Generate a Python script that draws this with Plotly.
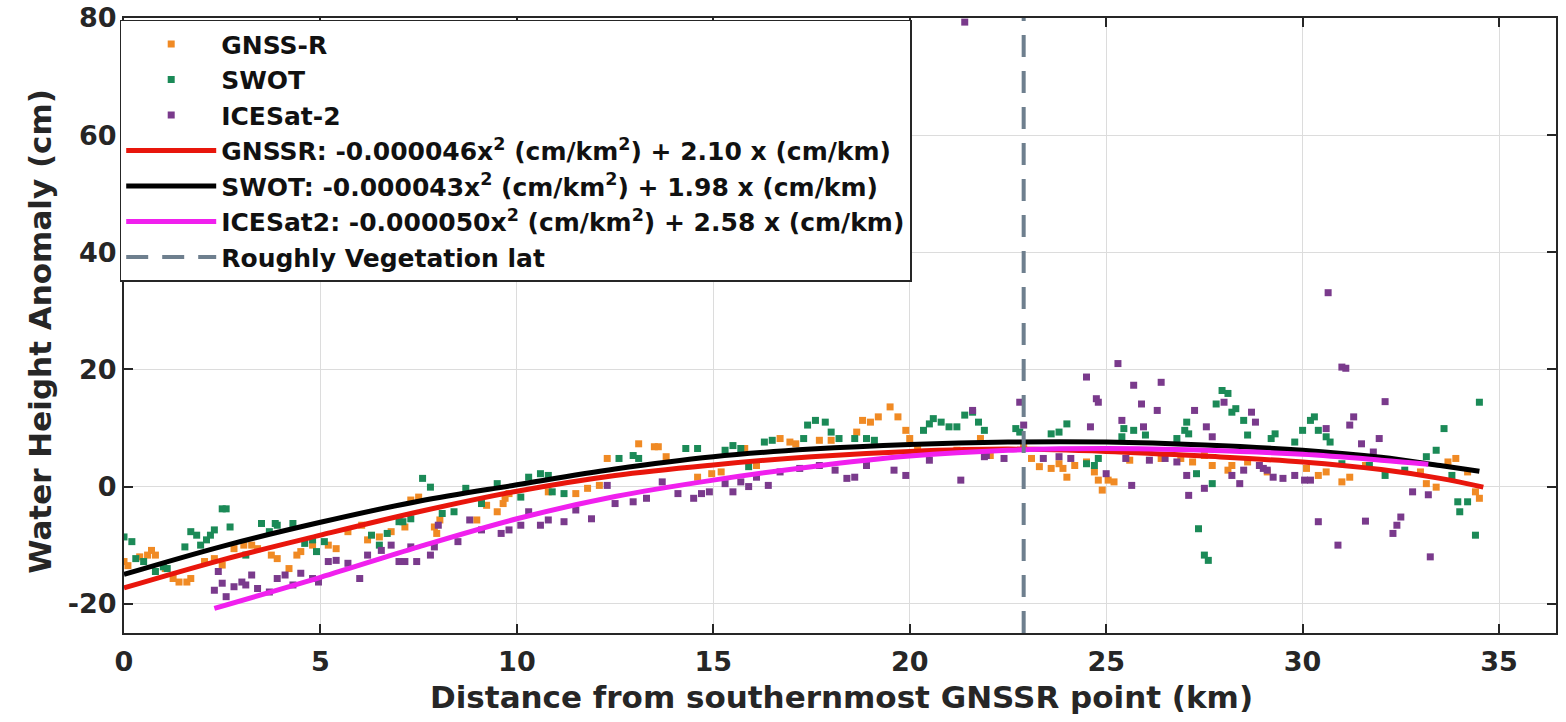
import plotly.graph_objects as go

# ---------------- data ----------------
gnssr_x = [0.0, 0.1, 0.4, 0.6, 0.7, 0.8, 1.05, 1.25, 1.4, 1.6, 1.7, 2.05, 2.3, 2.5, 2.8, 3.05, 3.25, 3.4,
           3.75, 3.9, 4.2, 4.4, 4.5, 4.8, 5.2, 5.4, 5.7, 6.05, 6.2, 6.5, 6.8, 7.15, 7.3,
           7.5, 7.9, 7.96, 8.04, 8.98, 9.23, 9.5, 9.65, 9.7, 9.8, 10.8, 11.5, 11.8, 12.1, 12.3,
           13.1, 13.5, 13.6, 13.8, 14.6, 14.96, 15.2, 15.8, 16.1, 16.7, 16.95, 17.1, 17.7, 18.0,
           18.65, 18.8, 19.0, 19.2, 19.5, 19.7, 19.9, 20.0, 20.2, 21.2, 21.8, 22.05, 22.9, 23.1,
           23.3, 23.6, 23.8, 23.9, 24.0, 24.2, 24.5, 24.7, 24.8, 24.9, 25.05, 25.2, 25.6, 26.4,
           26.9, 27.2, 27.5, 27.7, 28.1, 28.2, 28.6, 29.1, 30.1, 30.4, 30.6, 31.0, 31.2, 31.6,
           33.0, 33.15, 33.4, 33.7, 33.9, 34.2, 34.4, 34.5]
gnssr_y = [-12.8, -13.5, -12.0, -11.7, -10.9, -11.7, -14.0, -15.7, -16.3, -16.3, -15.7, -12.8, -12.3, -13.4,
           -10.6, -10.0, -10.0, -10.6, -11.7, -12.3, -14.0, -11.7, -11.1, -10.0, -10.0, -10.6, -7.7, -6.6,
           -9.1, -8.6, -7.7, -6.9, -2.3,
           -1.8, -6.9, -8.0, -5.7, -5.7, -3.2, -4.3, -2.9, -2.0, -1.2, -0.9, -1.2, -0.3, 0.2, 4.8,
           7.3, 6.8, 6.8, 5.1, 1.6, 2.2, 2.5, 6.5, 3.6, 8.2, 7.6, 7.3, 7.9, 7.9,
           9.3, 11.3, 11.0, 11.9, 13.6, 11.9, 9.6, 8.2, 6.5, 6.2, 8.2, 5.3, 7.0, 4.8,
           3.4, 3.1, 3.9, 3.1, 1.6, 3.6, 4.2, 2.5, 1.1, -0.6, 1.1, 0.8, 4.5, 4.8,
           4.8, 4.2, 5.3, 3.6, 2.8, 3.6, 4.2, 2.5, 3.1, 1.9, 2.5, 0.8, 1.6, 3.6,
           2.5, 0.5, -0.1, 4.2, 4.8, 2.5, -0.9, -2.0]

swot_x = [0.0, 0.2, 0.3, 0.5, 0.8, 1.0, 1.1, 1.55, 1.7, 1.85, 1.95, 2.1, 2.2, 2.3, 2.5, 2.6, 2.7, 3.1,
          3.5, 3.7, 3.85, 3.9, 4.3, 4.6, 4.8, 4.9, 5.1, 6.3, 6.5, 6.7, 7.0, 7.1, 7.3, 7.6, 7.8,
          8.1, 8.4, 8.7, 9.1, 9.5, 10.1, 10.3, 10.6, 10.8, 10.9, 11.2, 12.6, 12.96, 13.1, 14.3,
          14.6, 15.3, 15.5, 15.7, 15.9, 16.3, 16.5, 17.3, 17.4, 17.6, 17.85, 18.0, 18.2, 18.6,
          18.9, 19.1, 20.35, 20.5, 20.6, 20.8, 21.0, 21.2, 21.4, 21.6, 21.75, 21.9, 22.7, 22.8,
          23.6, 23.8, 24.0, 24.5, 24.7, 24.8, 25.4, 25.45, 25.7, 26.0, 26.8, 27.0, 27.05, 27.1,
          27.3, 27.35, 27.5, 27.6, 27.7, 27.8, 27.95, 28.1, 28.2, 28.3, 28.5, 28.6, 29.2, 29.3,
          29.8, 30.0, 30.2, 30.3, 30.4, 30.6, 30.7, 31.0, 31.7, 32.1, 32.6, 33.15, 33.4, 33.6,
          33.8, 33.95, 34.0, 34.2, 34.4, 34.5]
swot_y = [-8.6, -9.4, -12.3, -12.8, -14.5, -13.7, -14.0, -10.3, -7.7, -8.3, -10.0, -9.1, -8.3, -7.4,
          -3.8, -3.8, -6.9, -11.7, -6.3, -7.7, -6.3, -6.6, -6.3, -9.7, -9.1, -11.1, -9.4, -8.3, -10.0,
          -8.0, -6.0, -6.0, -5.5, 1.4, -0.1, -4.6, -4.3, -0.3, -2.9, 0.5, -1.8, 1.6, 2.2, 1.9, -0.9,
          -1.2, 4.8, 5.3, 4.8, 6.5, 6.5, 6.2, 7.0, 6.5, 3.4, 7.6, 7.9, 8.2, 10.5, 11.3, 11.0, 9.3,
          8.2, 8.2, 8.2, 7.9, 9.6, 10.7, 11.6, 11.0, 10.2, 10.2, 12.2, 12.7, 11.0, 9.6, 9.9, 9.3,
          9.0, 9.3, 10.7, 3.9, 3.6, 4.8, 8.5, 9.9, 9.6, 8.8, 8.2, 9.6, 11.0, 9.0, 2.2, -7.2, -11.7,
          -12.6, 0.5, 14.1, 16.4, 15.9, 12.7, 13.3, 11.3, 8.8, 8.2, 9.0, 7.6, 9.6, 11.3, 11.9, 9.6,
          8.5, 7.6, 3.9, 3.6, 1.9, 2.8, 5.1, 6.2, 9.9, 1.9, -2.6, -4.3, -2.6, -8.3, 14.4]

icesat_x = [2.3, 2.4, 2.5, 2.6, 2.8, 3.0, 3.1, 3.25, 3.4, 3.7, 3.9, 4.1, 4.3, 4.5, 4.8, 4.95, 5.2, 5.4,
            5.7, 6.0, 6.2, 6.55, 6.8, 7.0, 7.15, 7.3, 7.45, 7.8, 7.9, 8.0, 8.5, 8.8, 9.1, 9.6, 9.8,
            10.1, 10.3, 10.6, 10.8, 11.2, 11.5, 11.9, 12.3, 12.5, 12.96, 13.3, 13.7, 14.1, 14.5,
            14.7, 14.9, 15.3, 15.5, 15.7, 15.9, 16.1, 16.4, 16.7, 17.2, 17.7, 18.1, 18.4, 18.6,
            18.9, 19.6, 19.9, 20.5, 21.3, 21.4, 21.6, 21.9, 21.95, 22.4, 22.8, 22.9, 23.4, 23.8,
            24.1, 24.5, 24.6, 24.75, 24.8, 25.0, 25.3, 25.4, 25.5, 25.65, 25.7, 25.9, 25.95, 26.1,
            26.3, 26.4, 26.5, 26.8, 27.05, 27.1, 27.25, 27.5, 27.55, 27.7, 28.0, 28.2, 28.4, 28.5,
            28.7, 28.8, 28.9, 29.0, 29.1, 29.25, 29.5, 29.8, 30.05, 30.2, 30.4, 30.6, 30.65, 30.9,
            31.0, 31.1, 31.2, 31.3, 31.5, 31.6, 31.8, 31.95, 32.1, 32.3, 32.4, 32.5, 32.8, 33.2,
            33.25]
icesat_y = [-17.7, -14.5, -16.5, -18.8, -17.1, -16.3, -16.8, -15.1, -17.4, -18.0, -15.7, -15.1, -16.8,
            -14.8, -15.7, -16.3, -12.8, -12.6, -13.1, -15.7, -11.7, -10.9, -10.0, -12.8, -12.8, -10.3,
            -12.8, -11.7, -10.3, -6.6, -9.4, -5.7, -7.4, -8.0, -7.4, -6.6, -4.3, -6.6, -5.7, -6.0,
            -4.0, -5.5, 0.2, -2.9, -2.6, -2.0, 0.8, -1.2, -2.0, -1.2, -0.9, 0.5, -0.9, 0.8, 0.0,
            1.6, 0.2, 2.5, 3.1, 3.6, 2.8, 1.4, 1.6, 3.6, 2.8, 1.9, 4.5, 1.1, 79.3, 13.0, 5.1, 5.3,
            4.8, 14.4, 10.5, 4.8, 5.1, 4.8, 18.7, 10.2, 15.0, 14.4, 2.2, 21.0, 11.3, 4.8, 0.2, 17.3,
            14.1, 10.2, 4.5, 13.0, 17.8, 4.8, 4.2, 1.9, -1.5, 13.0, -0.3, 10.2, 8.5, 14.4, 1.9, 0.5,
            2.8, 12.7, 11.0, 3.6, 3.1, 2.8, 1.6, 1.4, 1.9, 1.1, 1.1, -6.0, 9.9, 33.1, -10.0, 20.4,
            20.2, 10.5, 11.9, 7.3, -5.9, 5.9, 8.2, 14.5, -8.0, -6.6, -5.2, -0.9, -1.4, -12.0]

# quadratic fit curves
fit_gnssr_x = [0, 2.5, 5, 7.5, 10, 12.5, 15, 17.5, 20, 22.5, 25, 27.5, 30, 32, 33.5, 34.6]
fit_gnssr_y = [-17.3, -12.5, -8.3, -4.3, -0.8, 1.9, 3.7, 5.1, 6.0, 6.4, 6.0, 5.2, 4.2, 2.9, 1.4, -0.1]
fit_swot_x = [0, 2.5, 5, 7.5, 10, 12.5, 15, 17.5, 20, 22.5, 25, 27.5, 30, 32, 33.5, 34.5]
fit_swot_y = [-15.0, -10.2, -6.1, -2.5, 0.3, 3.0, 5.1, 6.4, 7.2, 7.6, 7.6, 7.1, 6.2, 5.0, 3.6, 2.6]
fit_icesat_x = [2.3, 5, 7.5, 10, 12.5, 15, 17.5, 20, 22.5, 25, 27.5, 30, 32, 33.2]
fit_icesat_y = [-20.8, -15.5, -10.3, -5.5, -1.7, 1.1, 3.4, 5.2, 6.2, 6.5, 6.2, 5.5, 4.5, 3.8]

veg_lat_x = 22.9
y_range = [-25, 80]
x_range = [0, 36.45]
y_ticks = [-20, 0, 20, 40, 60, 80]
y_tick_text = ["-20", "0", "20", "40", "60", "80"]
x_ticks = [0, 5, 10, 15, 20, 25, 30, 35]

names = ["GNSS-R", "SWOT", "ICESat-2",
         "GNSSR: -0.000046x<sup>2</sup> (cm/km<sup>2</sup>) + 2.10 x (cm/km)",
         "SWOT: -0.000043x<sup>2</sup> (cm/km<sup>2</sup>) + 1.98 x (cm/km)",
         "ICESat2: -0.000050x<sup>2</sup> (cm/km<sup>2</sup>) + 2.58 x (cm/km)",
         "Roughly Vegetation lat"]
x_title = "Distance from southernmost GNSSR point (km)"
y_title = "Water Height Anomaly (cm)"

# ---------------- figure ----------------
FONT = "DejaVu Sans"
TXT = "#262626"
fig = go.Figure()

mk = dict(symbol="square", size=7, line=dict(width=0))
fig.add_trace(go.Scatter(x=gnssr_x, y=gnssr_y, mode="markers", name=names[0],
                         marker=dict(color="#F08A24", **mk)))
fig.add_trace(go.Scatter(x=swot_x, y=swot_y, mode="markers", name=names[1],
                         marker=dict(color="#1B8A57", **mk)))
fig.add_trace(go.Scatter(x=icesat_x, y=icesat_y, mode="markers", name=names[2],
                         marker=dict(color="#7A3A8C", **mk)))

fig.add_trace(go.Scatter(x=fit_gnssr_x, y=fit_gnssr_y, mode="lines", name=names[3],
                         line=dict(color="#E8160C", width=5, shape="spline")))
fig.add_trace(go.Scatter(x=fit_swot_x, y=fit_swot_y, mode="lines", name=names[4],
                         line=dict(color="#000000", width=5, shape="spline")))
fig.add_trace(go.Scatter(x=fit_icesat_x, y=fit_icesat_y, mode="lines", name=names[5],
                         line=dict(color="#F020EE", width=5, shape="spline")))
fig.add_trace(go.Scatter(x=[veg_lat_x, veg_lat_x], y=y_range, mode="lines", name=names[6],
                         line=dict(color="#6E7F8E", width=4, dash="22px,14px")))

axis_common = dict(
    showgrid=True, gridcolor="#DCDCDC", gridwidth=1,
    showline=True, linecolor=TXT, linewidth=2, mirror="ticks",
    ticks="inside", ticklen=9, tickwidth=1.5, tickcolor=TXT,
    zeroline=False, automargin=False, ticklabeloverflow="allow",
    tickfont=dict(family=FONT, size=27, color=TXT, weight="bold"),
)

fig.update_layout(
    width=1566, height=722,
    margin=dict(l=124, r=10, t=18, b=89),
    paper_bgcolor="white", plot_bgcolor="white",
    showlegend=True,
    legend=dict(
        x=-0.003, y=0.997, xanchor="left", yanchor="top",
        bgcolor="white", bordercolor=TXT, borderwidth=1.5,
        font=dict(family=FONT, size=25, color="#111111", weight="bold"),
        itemwidth=90, tracegroupgap=0,
    ),
    xaxis=dict(range=x_range, tickvals=x_ticks, ticklabelstandoff=4, **axis_common),
    yaxis=dict(range=y_range, tickvals=y_ticks, ticktext=y_tick_text, **axis_common),
    annotations=[
        dict(text=x_title, xref="paper", yref="paper", x=0.5007, y=0, yshift=-64,
             xanchor="center", yanchor="middle", showarrow=False,
             font=dict(family=FONT, size=31, color=TXT, weight="bold")),
        dict(text=y_title, xref="paper", yref="paper", x=0, xshift=-84, y=0.49,
             xanchor="center", yanchor="middle", textangle=-90, showarrow=False,
             font=dict(family=FONT, size=31, color=TXT, weight="bold")),
    ],
)

fig.write_html("out.html", config={"displayModeBar": False},
               post_script="document.body.style.margin='0';document.body.style.overflow='hidden';")
